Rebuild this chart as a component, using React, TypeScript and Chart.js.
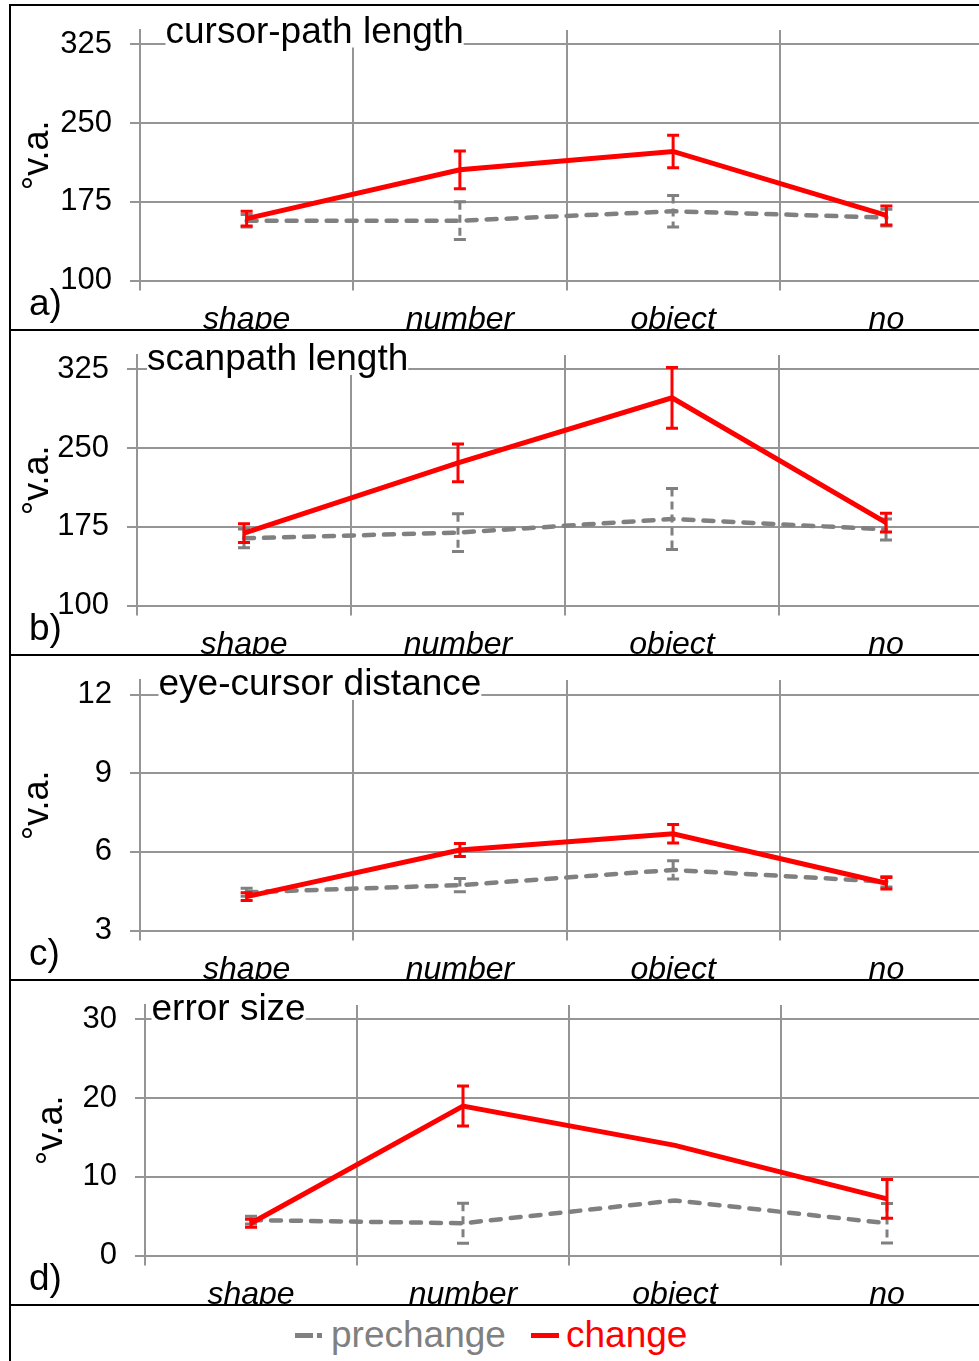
import React, { useEffect, useRef } from "react";
import { Chart, registerables } from "chart.js";

Chart.register(...registerables);

const FONT = '"Liberation Sans", Arial, Helvetica, sans-serif';

// ---- data ----
const categories = ["shape", "number", "object", "no"];

const cursorPrechange = [157, 157, 166, 160];
const cursorPrechangeErr = [6, 18, 15, 8];
const cursorChange = [159, 205.5, 223, 162];
const cursorChangeErr = [7, 18, 15.5, 9];
const cursorTicks = [100, 175, 250, 325];

const scanPrechange = [164, 169.5, 182.5, 172.5];
const scanPrechangeErr = [9, 18, 29, 10];
const scanChange = [169, 236, 298, 179];
const scanChangeErr = [9, 18, 29, 9];
const scanTicks = [100, 175, 250, 325];

const eyePrechange = [4.46, 4.73, 5.31, 4.86];
const eyePrechangeErr = [0.15, 0.25, 0.35, 0.2];
const eyeChange = [4.29, 6.07, 6.69, 4.8];
const eyeChangeErr = [0.15, 0.25, 0.35, 0.22];
const eyeTicks = [3, 6, 9, 12];

const errPrechange = [4.5, 4.1, 7.0, 4.1];
const errPrechangeErr = [0.5, 2.55, 0, 2.5];
const errChange = [4.1, 19.0, 14.0, 7.2];
const errChangeErr = [0.5, 2.55, 0, 2.45];
const errTicks = [0, 10, 20, 30];

const seriesNames = ["prechange", "change"];
const yUnit = "°v.a.";

// ---- panel layout ----
const panels = [
  { title: "cursor-path length", letter: "a)", pre: cursorPrechange, preErr: cursorPrechangeErr, chg: cursorChange, chgErr: cursorChangeErr, ticks: cursorTicks, max: 338.8, axisX: 140, titleX: 165.5, titleY: 37.5, yTitlePad: 16, top: 5 },
  { title: "scanpath length", letter: "b)", pre: scanPrechange, preErr: scanPrechangeErr, chg: scanChange, chgErr: scanChangeErr, ticks: scanTicks, max: 338.8, axisX: 137, titleX: 147, titleY: 40, yTitlePad: 16, top: 330 },
  { title: "eye-cursor distance", letter: "c)", pre: eyePrechange, preErr: eyePrechangeErr, chg: eyeChange, chgErr: eyeChangeErr, ticks: eyeTicks, max: 12.553, axisX: 140, titleX: 158.5, titleY: 40, yTitlePad: 16, top: 655 },
  { title: "error size", letter: "d)", pre: errPrechange, preErr: errPrechangeErr, chg: errChange, chgErr: errChangeErr, ticks: errTicks, max: 31.84, axisX: 145, titleX: 151.5, titleY: 40, yTitlePad: 30, top: 980 },
];

const GRID = "#959595";
const RED = "#ff0000";
const GRAY = "#808080";
const CANVAS_W = 1000;
const CANVAS_H = 360;
const CHART_TOP = 25;
const CHART_BOTTOM = 275.5;

function Panel({ cfg }: { cfg: any }) {
  const ref = useRef<HTMLCanvasElement>(null);
  useEffect(() => {
    const errorBars = {
      id: "errorBars",
      afterDatasetDraw(chart: any, args: any) {
        const ds: any = chart.data.datasets[args.index];
        const errs: number[] = ds.errors;
        if (!errs) return;
        const ys = chart.scales.y;
        const ctx = chart.ctx;
        ctx.save();
        ctx.strokeStyle = ds.borderColor;
        ctx.lineWidth = 3;
        ctx.lineCap = "butt";
        args.meta.data.forEach((pt: any, i: number) => {
          const e = errs[i];
          if (!e) return;
          const v = ds.data[i];
          const yTop = ys.getPixelForValue(v + e);
          const yBot = ys.getPixelForValue(v - e);
          const x = pt.x;
          ctx.setLineDash(ds.errDash || []);
          ctx.beginPath();
          ctx.moveTo(x, yTop);
          ctx.lineTo(x, yBot);
          ctx.stroke();
          ctx.setLineDash([]);
          ctx.beginPath();
          ctx.moveTo(x - 6, yTop);
          ctx.lineTo(x + 6, yTop);
          ctx.moveTo(x - 6, yBot);
          ctx.lineTo(x + 6, yBot);
          ctx.stroke();
        });
        ctx.restore();
      },
    };
    const panelText = {
      id: "panelText",
      afterDraw(chart: any) {
        const ctx = chart.ctx;
        ctx.save();
        ctx.font = `37px ${FONT}`;
        ctx.textAlign = "left";
        ctx.textBaseline = "alphabetic";
        const w = ctx.measureText(cfg.title).width;
        ctx.fillStyle = "#ffffff";
        ctx.fillRect(cfg.titleX, cfg.titleY - 28, w, 33);
        ctx.fillStyle = "#000000";
        ctx.fillText(cfg.title, cfg.titleX, cfg.titleY);
        ctx.fillText(cfg.letter, 29, 310);
        ctx.restore();
      },
    };
    const chart = new Chart(ref.current as HTMLCanvasElement, {
      type: "line",
      data: {
        labels: categories,
        datasets: [
          {
            label: seriesNames[0],
            data: cfg.pre,
            errors: cfg.preErr,
            errDash: [8, 5],
            borderColor: GRAY,
            backgroundColor: GRAY,
            borderWidth: 4.5,
            borderDash: [10, 10],
            borderCapStyle: "round",
            pointRadius: 0,
            tension: 0,
            order: 2,
          } as any,
          {
            label: seriesNames[1],
            data: cfg.chg,
            errors: cfg.chgErr,
            borderColor: RED,
            backgroundColor: RED,
            borderWidth: 5,
            pointRadius: 0,
            tension: 0,
            order: 1,
          } as any,
        ],
      },
      options: {
        responsive: false,
        animation: false,
        devicePixelRatio: 1,
        layout: { padding: { top: CHART_TOP, right: CANVAS_W - 993, bottom: 0, left: 0 } },
        plugins: {
          legend: { display: false },
          tooltip: { enabled: false },
        },
        scales: {
          x: {
            type: "category",
            offset: true,
            grid: { offset: true, color: GRID, lineWidth: 2, tickLength: 10, drawTicks: true },
            border: { color: GRID, width: 2 },
            ticks: {
              color: "#000",
              font: { family: FONT, size: 32, style: "italic" },
              padding: 10,
              maxRotation: 0,
              autoSkip: false,
            },
            afterFit: (s: any) => {
              s.height = CANVAS_H - CHART_BOTTOM;
              s.paddingLeft = 0;
              s.paddingRight = 0;
            },
          },
          y: {
            type: "linear",
            min: cfg.ticks[0],
            max: cfg.max,
            afterBuildTicks: (s: any) => {
              s.ticks = cfg.ticks.map((v: number) => ({ value: v }));
            },
            grid: { color: GRID, lineWidth: 2, tickLength: 10, drawTicks: true },
            border: { color: GRID, width: 2 },
            ticks: {
              color: "#000",
              font: { family: FONT, size: 31 },
              padding: 18,
            },
            title: {
              display: true,
              text: yUnit,
              color: "#000",
              font: { family: FONT, size: 36 },
              padding: { top: cfg.yTitlePad, bottom: 0 },
            },
            afterFit: (s: any) => {
              s.width = cfg.axisX;
              s.paddingTop = 0;
              s.paddingBottom = 0;
            },
          },
        },
      } as any,
      plugins: [errorBars, panelText],
    });
    return () => chart.destroy();
  }, []);
  return (
    <div
      style={{
        position: "absolute",
        left: 0,
        top: cfg.top,
        width: 979,
        height: 325,
        overflow: "hidden",
        background: "#fff",
      }}
    >
      <canvas
        ref={ref}
        width={CANVAS_W}
        height={CANVAS_H}
        style={{ position: "absolute", left: 0, top: 0, width: CANVAS_W + "px", height: CANVAS_H + "px" }}
      />
    </div>
  );
}

const borderTops = [4, 329, 654, 979, 1304];

export default function App() {
  const legendText: React.CSSProperties = {
    position: "absolute",
    top: 1316,
    fontFamily: FONT,
    fontSize: 37,
    lineHeight: "37px",
    whiteSpace: "nowrap",
  };
  return (
    <div
      style={{
        position: "absolute",
        left: 0,
        top: 0,
        width: 979,
        height: 1361,
        overflow: "hidden",
        background: "#fff",
      }}
    >
      {panels.map((p) => (
        <Panel key={p.letter} cfg={p} />
      ))}
      {borderTops.map((t) => (
        <div key={t} style={{ position: "absolute", left: 9, top: t, width: 970, height: 2, background: "#000" }} />
      ))}
      <div style={{ position: "absolute", left: 9, top: 4, width: 2, height: 1357, background: "#000" }} />
      {/* legend */}
      <div style={{ position: "absolute", left: 295, top: 1333, width: 18, height: 5, background: GRAY }} />
      <div style={{ position: "absolute", left: 317, top: 1333, width: 5, height: 5, background: GRAY }} />
      <div style={{ ...legendText, left: 331, color: GRAY }}>{seriesNames[0]}</div>
      <div style={{ position: "absolute", left: 531, top: 1333, width: 28, height: 5, background: RED }} />
      <div style={{ ...legendText, left: 566, color: RED }}>{seriesNames[1]}</div>
    </div>
  );
}
